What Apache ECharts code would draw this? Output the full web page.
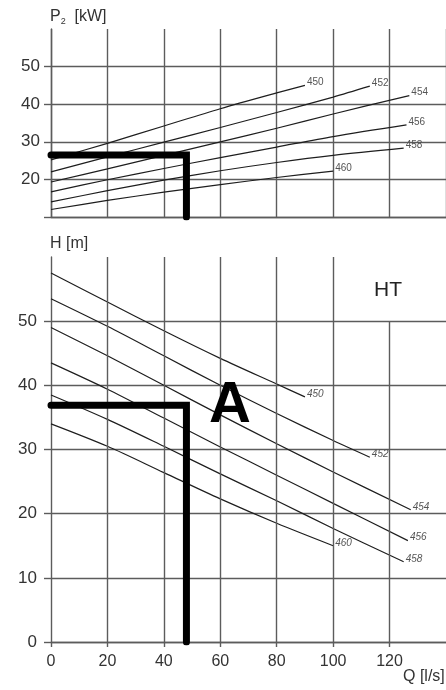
<!DOCTYPE html>
<html>
<head>
<meta charset="utf-8">
<script src="https://cdn.jsdelivr.net/npm/echarts@6/dist/echarts.min.js"></script>
<style>
  html, body { margin: 0; padding: 0; background: #fff; }
  #chart { width: 446px; height: 690px; }
</style>
</head>
<body>
<div id="chart"></div>
<script>
// impeller sizes (curve labels)
const sizes = ['450', '452', '454', '456', '458', '460']

// P2 [kW] vs Q [l/s]
const powerQ = [
  [0, 20, 40, 60, 80, 90],
  [0, 20, 40, 60, 80, 100, 113],
  [0, 20, 40, 60, 80, 100, 127],
  [0, 20, 40, 60, 80, 100, 126],
  [0, 20, 40, 60, 80, 100, 125],
  [0, 20, 40, 60, 80, 100]
]
const powerKW = [
  [25.2, 29.6, 34.2, 38.8, 43.0, 45.0],
  [22.0, 26.0, 29.9, 33.8, 37.8, 41.9, 44.8],
  [19.3, 22.8, 26.4, 30.0, 33.6, 37.4, 42.3],
  [16.7, 19.9, 22.9, 25.8, 28.6, 31.4, 34.5],
  [14.0, 17.0, 19.8, 22.3, 24.5, 26.4, 28.3],
  [12.0, 14.4, 16.6, 18.6, 20.5, 22.2]
]

// H [m] vs Q [l/s]
const headQ = [
  [0, 20, 40, 60, 80, 90],
  [0, 20, 40, 60, 80, 100, 113],
  [0, 20, 40, 60, 80, 100, 127.5],
  [0, 20, 40, 60, 80, 100, 126.5],
  [0, 20, 40, 60, 80, 100, 125],
  [0, 20, 40, 60, 80, 100]
]
const headM = [
  [57.5, 53.0, 48.5, 44.2, 40.2, 38.2],
  [53.5, 49.2, 44.6, 40.0, 35.6, 31.4, 28.8],
  [49.0, 44.6, 40.0, 35.4, 30.9, 26.5, 20.6],
  [43.5, 39.4, 34.9, 30.4, 26.0, 21.6, 15.8],
  [38.5, 34.7, 30.5, 26.2, 22.0, 17.7, 12.5],
  [34.0, 30.5, 26.4, 22.3, 18.5, 15.0]
]

// duty point
const dutyQ = 48
const dutyP = 26.5
const dutyH = 36.9

const qLabels = [0, 20, 40, 60, 80, 100, 120]
const pLabels = [20, 30, 40, 50]
const hLabels = [0, 10, 20, 30, 40, 50]
// vertical grid of the H chart; the 120 line stops at 50 m (room for "HT")
const qGrid = [20, 40, 60, 80, 100, 120]
const qGridTop = [60, 60, 60, 60, 60, 50]

const FONT = 'Liberation Sans, Arial, sans-serif'
const gridLine = { color: '#5c5c5c', width: 1.4 }
const curveColor = '#1e1e1e'

const chart = echarts.init(document.getElementById('chart'))

function curveSeries(qs, vals, axis, italic) {
  return sizes.map((name, i) => ({
    name: name,
    type: 'line',
    xAxisIndex: axis, yAxisIndex: axis,
    data: qs[i].map((q, j) => [q, vals[i][j]]),
    smooth: 0.3,
    symbol: 'none',
    lineStyle: { color: curveColor, width: 1.2 },
    endLabel: {
      show: true, formatter: '{a}', distance: 2, offset: [0, -3],
      fontSize: 10, fontFamily: FONT, fontStyle: italic ? 'italic' : 'normal', color: '#555'
    },
    z: 3
  }))
}

const dutyStyle = { color: '#000', width: 7, cap: 'round', join: 'miter' }

chart.setOption({
  animation: false,
  grid: [
    { left: 51, top: 29, width: 397, height: 188 },
    { left: 51, top: 257, width: 397, height: 385 }
  ],
  xAxis: [
    {
      gridIndex: 0, type: 'value', min: 0, max: 140, interval: 20,
      axisLine: { show: true, lineStyle: gridLine },
      axisTick: { show: false }, axisLabel: { show: false },
      splitLine: { show: true, lineStyle: gridLine }
    },
    {
      gridIndex: 1, type: 'value', min: 0, max: 140, interval: 20,
      axisLine: { show: true, lineStyle: gridLine },
      axisTick: { show: true, length: 5, customValues: qLabels, lineStyle: gridLine },
      axisLabel: { customValues: qLabels, margin: 12, fontSize: 16, fontFamily: FONT, color: '#333' },
      splitLine: { show: false }
    }
  ],
  yAxis: [
    {
      gridIndex: 0, type: 'value', min: 10, max: 60, interval: 10,
      axisLine: { show: true, lineStyle: gridLine },
      axisTick: { show: true, length: 7, customValues: [10, 20, 30, 40, 50], lineStyle: gridLine },
      axisLabel: { customValues: pLabels, margin: 11, fontSize: 17, fontFamily: FONT, color: '#333' },
      splitLine: { show: true, lineStyle: gridLine }
    },
    {
      gridIndex: 1, type: 'value', min: 0, max: 60, interval: 10,
      axisLine: { show: true, lineStyle: gridLine },
      axisTick: { show: true, length: 7, customValues: hLabels, lineStyle: gridLine },
      axisLabel: { customValues: hLabels, margin: 14, fontSize: 17, fontFamily: FONT, color: '#333' },
      splitLine: { show: true, lineStyle: gridLine }
    }
  ],
  series: [
    {
      type: 'line', xAxisIndex: 1, yAxisIndex: 1, data: [], z: 1,
      markLine: {
        silent: true, symbol: 'none', label: { show: false },
        lineStyle: { color: gridLine.color, width: gridLine.width, type: 'solid' },
        data: qGrid.map((q, i) => [{ coord: [q, 0] }, { coord: [q, qGridTop[i]] }])
      }
    },
    ...curveSeries(powerQ, powerKW, 0, false),
    ...curveSeries(headQ, headM, 1, true),
    {
      type: 'line', xAxisIndex: 0, yAxisIndex: 0, symbol: 'none', z: 5,
      data: [[0, dutyP], [dutyQ, dutyP], [dutyQ, 10]],
      lineStyle: dutyStyle
    },
    {
      type: 'line', xAxisIndex: 1, yAxisIndex: 1, symbol: 'none', z: 5,
      data: [[0, dutyH], [dutyQ, dutyH], [dutyQ, 0]],
      lineStyle: dutyStyle
    }
  ],
  graphic: [
    {
      type: 'text', x: 50, y: 17,
      style: {
        text: 'P{s|2}  [kW]', verticalAlign: 'middle', fill: '#333',
        font: '16px ' + FONT,
        rich: { s: { fontSize: 9, fontFamily: FONT, fill: '#333', padding: [10, 0, 0, 0] } }
      }
    },
    {
      type: 'text', x: 50, y: 244,
      style: { text: 'H [m]', verticalAlign: 'middle', fill: '#333', font: '16px ' + FONT }
    },
    {
      type: 'text', x: 388, y: 290,
      style: { text: 'HT', align: 'center', verticalAlign: 'middle', fill: '#222', font: '21px ' + FONT }
    },
    {
      type: 'text', x: 230, y: 406, z: 10,
      style: { text: 'A', align: 'center', verticalAlign: 'middle', fill: '#000', font: 'bold 58px ' + FONT }
    },
    {
      type: 'text', x: 403, y: 677,
      style: { text: 'Q [l/s]', verticalAlign: 'middle', fill: '#333', font: '16px ' + FONT }
    }
  ]
})
</script>
</body>
</html>
